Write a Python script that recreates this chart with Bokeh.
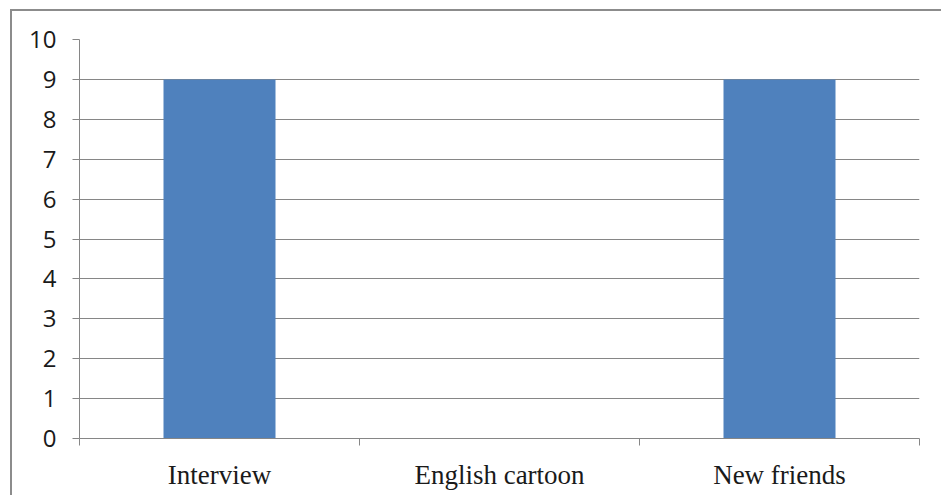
from bokeh.plotting import figure
from bokeh.models import ColumnDataSource, FixedTicker, Range1d
from bokeh.embed import file_html
from bokeh.resources import INLINE

categories = ["Interview", "English cartoon", "New friends"]
values = [9, 0, 9]
y_ticks = list(range(0, 11))

xs = [i + 0.5 for i in range(len(categories))]
src = ColumnDataSource(dict(x=xs, top=values, cat=categories))

OX, OY = 12, 11  # offset of figure inside the outer chart frame
W, H = 943 - OX, 497 - OY

p = figure(width=W, height=H, output_backend="svg", toolbar_location=None,
           x_range=Range1d(0, len(categories)), y_range=Range1d(0, 10),
           min_border_left=79 - OX, min_border_right=W - (919 - OX),
           min_border_top=39 - OY, min_border_bottom=H - (438 - OY))
p.styles = {"margin-left": "10px", "margin-top": "9px",
            "border-left": "2px solid #8c8c8c", "border-top": "2px solid #8c8c8c"}
p.background_fill_color = "white"
p.border_fill_color = "white"
p.outline_line_color = None

p.vbar(x="x", top="top", width=0.4, source=src, fill_color="#4F81BD", line_color=None)

# y axis
p.yaxis.ticker = FixedTicker(ticks=y_ticks)
p.yaxis.axis_line_color = "#868686"
p.yaxis.major_tick_line_color = "#868686"
p.yaxis.major_tick_out = 7
p.yaxis.major_tick_in = 0
p.yaxis.minor_tick_line_color = None
p.yaxis.major_label_text_font = "Open Sans"
p.yaxis.major_label_text_font_size = "24px"
p.yaxis.major_label_text_color = "#1a1a1a"
p.yaxis.major_label_standoff = 16

# x axis
p.xaxis.ticker = FixedTicker(ticks=xs, minor_ticks=list(range(len(categories) + 1)))
p.xaxis.major_label_overrides = {x: c for x, c in zip(xs, categories)}
p.xaxis.axis_line_color = "#868686"
p.xaxis.major_tick_line_color = None
p.xaxis.minor_tick_line_color = "#868686"
p.xaxis.minor_tick_out = 7
p.xaxis.minor_tick_in = 0
p.xaxis.major_label_text_font = "Liberation Serif"
p.xaxis.major_label_text_font_size = "27px"
p.xaxis.major_label_text_color = "#1a1a1a"
p.xaxis.major_label_standoff = 14

p.xgrid.grid_line_color = None
p.ygrid.grid_line_color = "#868686"
p.ygrid.grid_line_width = 1

open("out.html", "w").write(file_html(p, INLINE))
